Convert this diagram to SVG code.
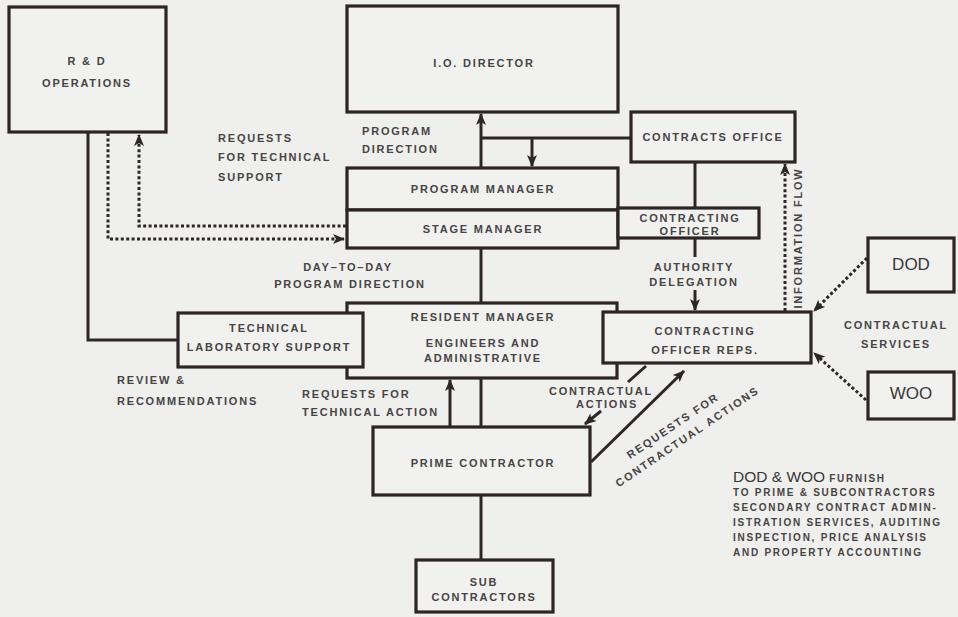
<svg xmlns="http://www.w3.org/2000/svg" width="958" height="617" viewBox="0 0 958 617">
<defs>
<marker id="ah" viewBox="0 0 12 10" refX="11" refY="5" markerWidth="12" markerHeight="10" markerUnits="userSpaceOnUse" orient="auto">
<path d="M0,0 L12,5 L0,10 L3,5 z" fill="#2d2626"/>
</marker>
<style>
.box{fill:#f1f1ef;stroke:#2d2424;stroke-width:3.2}
.ln{fill:none;stroke:#2d2626;stroke-width:3}
.dot{fill:none;stroke:#2d2626;stroke-width:3;stroke-dasharray:3 2.4}
.t{font-family:"Liberation Sans",Arial,sans-serif;font-weight:bold;font-size:11px;letter-spacing:1.8px;fill:#474444}
.c{text-anchor:middle}
.big{font-family:"Liberation Sans",Arial,sans-serif;font-size:17px;fill:#3a3838}
.s{font-family:"Liberation Sans",Arial,sans-serif;font-weight:bold;font-size:10px;letter-spacing:1.75px;fill:#474444}
</style>
</defs>
<rect x="0" y="0" width="958" height="617" fill="#efefed"/>

<g id="connectors">
<path class="ln" d="M88,132 V340 H178"/>
<path class="dot" d="M108,133 V239 H344" marker-end="url(#ah)"/>
<path class="dot" d="M346,226 H139 V135" marker-end="url(#ah)"/>
<path class="ln" d="M481,168 V114" marker-end="url(#ah)"/>
<path class="ln" d="M481,138 H631"/>
<path class="ln" d="M532,138 V166" marker-end="url(#ah)"/>
<path class="ln" d="M695,162 V208"/>
<path class="ln" d="M695,238 V257"/>
<path class="ln" d="M695,290 V310" marker-end="url(#ah)"/>
<path class="dot" d="M785,311 V164" marker-end="url(#ah)"/>
<path class="dot" d="M867,258 L814,311" marker-end="url(#ah)"/>
<path class="dot" d="M866,400 L814,353" marker-end="url(#ah)"/>
<path class="ln" d="M481,248 V303"/>
<path class="ln" d="M450,427 V380" marker-end="url(#ah)"/>
<path class="ln" d="M481,378 V427"/>
<path class="ln" d="M646,366 L628,382"/>
<path class="ln" d="M601,411 L585,424" marker-end="url(#ah)"/>
<path class="ln" d="M591,462 L684,371" marker-end="url(#ah)"/>
<path class="ln" d="M481,495 V560"/>
</g>

<g id="rd-operations">
<rect class="box" x="9" y="7" width="157" height="125"/>
<text class="t c" x="87" y="65">R &amp; D</text>
<text class="t c" x="87" y="87">OPERATIONS</text>
</g>

<g id="io-director">
<rect class="box" x="347" y="6" width="271" height="106"/>
<text class="t c" x="484" y="67">I.O. DIRECTOR</text>
</g>

<g id="contracts-office">
<rect class="box" x="631" y="112" width="164" height="50"/>
<text class="t c" x="713" y="141">CONTRACTS OFFICE</text>
</g>

<g id="program-manager">
<rect class="box" x="347" y="168" width="271" height="42"/>
<text class="t c" x="483" y="193">PROGRAM MANAGER</text>
</g>

<g id="stage-manager">
<rect class="box" x="347" y="210" width="271" height="38"/>
<text class="t c" x="483" y="233">STAGE MANAGER</text>
</g>

<g id="contracting-officer">
<rect class="box" x="618" y="208" width="141" height="30"/>
<text class="t c" x="690" y="222">CONTRACTING</text>
<text class="t c" x="690" y="235">OFFICER</text>
</g>

<g id="resident-manager">
<rect class="box" x="347" y="303" width="270" height="75"/>
<text class="t c" x="483" y="321">RESIDENT MANAGER</text>
<text class="t c" x="483" y="347">ENGINEERS AND</text>
<text class="t c" x="483" y="362">ADMINISTRATIVE</text>
</g>

<g id="technical-laboratory-support">
<rect class="box" x="178" y="313" width="185" height="54"/>
<text class="t c" x="269" y="332">TECHNICAL</text>
<text class="t c" x="269" y="351">LABORATORY SUPPORT</text>
</g>

<g id="contracting-officer-reps">
<rect class="box" x="603" y="312" width="208" height="51"/>
<text class="t c" x="705" y="335">CONTRACTING</text>
<text class="t c" x="705" y="354">OFFICER REPS.</text>
</g>

<g id="dod">
<rect class="box" x="868" y="238" width="86" height="54"/>
<text class="big c" x="911" y="270">DOD</text>
</g>

<g id="woo">
<rect class="box" x="868" y="372" width="86" height="47"/>
<text class="big c" x="911" y="399">WOO</text>
</g>

<g id="prime-contractor">
<rect class="box" x="373" y="427" width="217" height="68"/>
<text class="t c" x="483" y="467">PRIME CONTRACTOR</text>
</g>

<g id="sub-contractors">
<rect class="box" x="416" y="560" width="137" height="52"/>
<text class="t c" x="484" y="586">SUB</text>
<text class="t c" x="484" y="601">CONTRACTORS</text>
</g>

<g id="labels">
<text class="t" x="218" y="142">REQUESTS</text>
<text class="t" x="218" y="161">FOR TECHNICAL</text>
<text class="t" x="218" y="181">SUPPORT</text>
<text class="t" x="362" y="135">PROGRAM</text>
<text class="t" x="362" y="153">DIRECTION</text>
<text class="t c" x="348" y="271">DAY–TO–DAY</text>
<text class="t c" x="350" y="288">PROGRAM DIRECTION</text>
<text class="t c" x="694" y="271">AUTHORITY</text>
<text class="t c" x="694" y="286">DELEGATION</text>
<text class="t" x="798" y="238" text-anchor="middle" transform="rotate(-90 798 238)" dy="4">INFORMATION FLOW</text>
<text class="t c" x="896" y="329">CONTRACTUAL</text>
<text class="t c" x="896" y="348">SERVICES</text>
<text class="t" x="117" y="384">REVIEW &amp;</text>
<text class="t" x="117" y="405">RECOMMENDATIONS</text>
<text class="t" x="302" y="398">REQUESTS FOR</text>
<text class="t" x="302" y="416">TECHNICAL ACTION</text>
<text class="t c" x="601" y="395">CONTRACTUAL</text>
<text class="t c" x="607" y="408">ACTIONS</text>
<g transform="translate(675,429) rotate(-34)">
<text class="t c" x="0" y="0">REQUESTS FOR</text>
<text class="t c" x="6" y="17">CONTRACTUAL ACTIONS</text>
</g>
<text x="733" y="482"><tspan style="font-family:'Liberation Sans',Arial,sans-serif;font-size:15.5px;fill:#3a3838">DOD &amp; WOO</tspan><tspan class="s" dx="4">FURNISH</tspan></text>
<text class="s" x="733" y="496">TO PRIME &amp; SUBCONTRACTORS</text>
<text class="s" x="733" y="511">SECONDARY CONTRACT ADMIN-</text>
<text class="s" x="733" y="526">ISTRATION SERVICES, AUDITING</text>
<text class="s" x="733" y="541">INSPECTION, PRICE ANALYSIS</text>
<text class="s" x="733" y="556">AND PROPERTY ACCOUNTING</text>
</g>
</svg>
